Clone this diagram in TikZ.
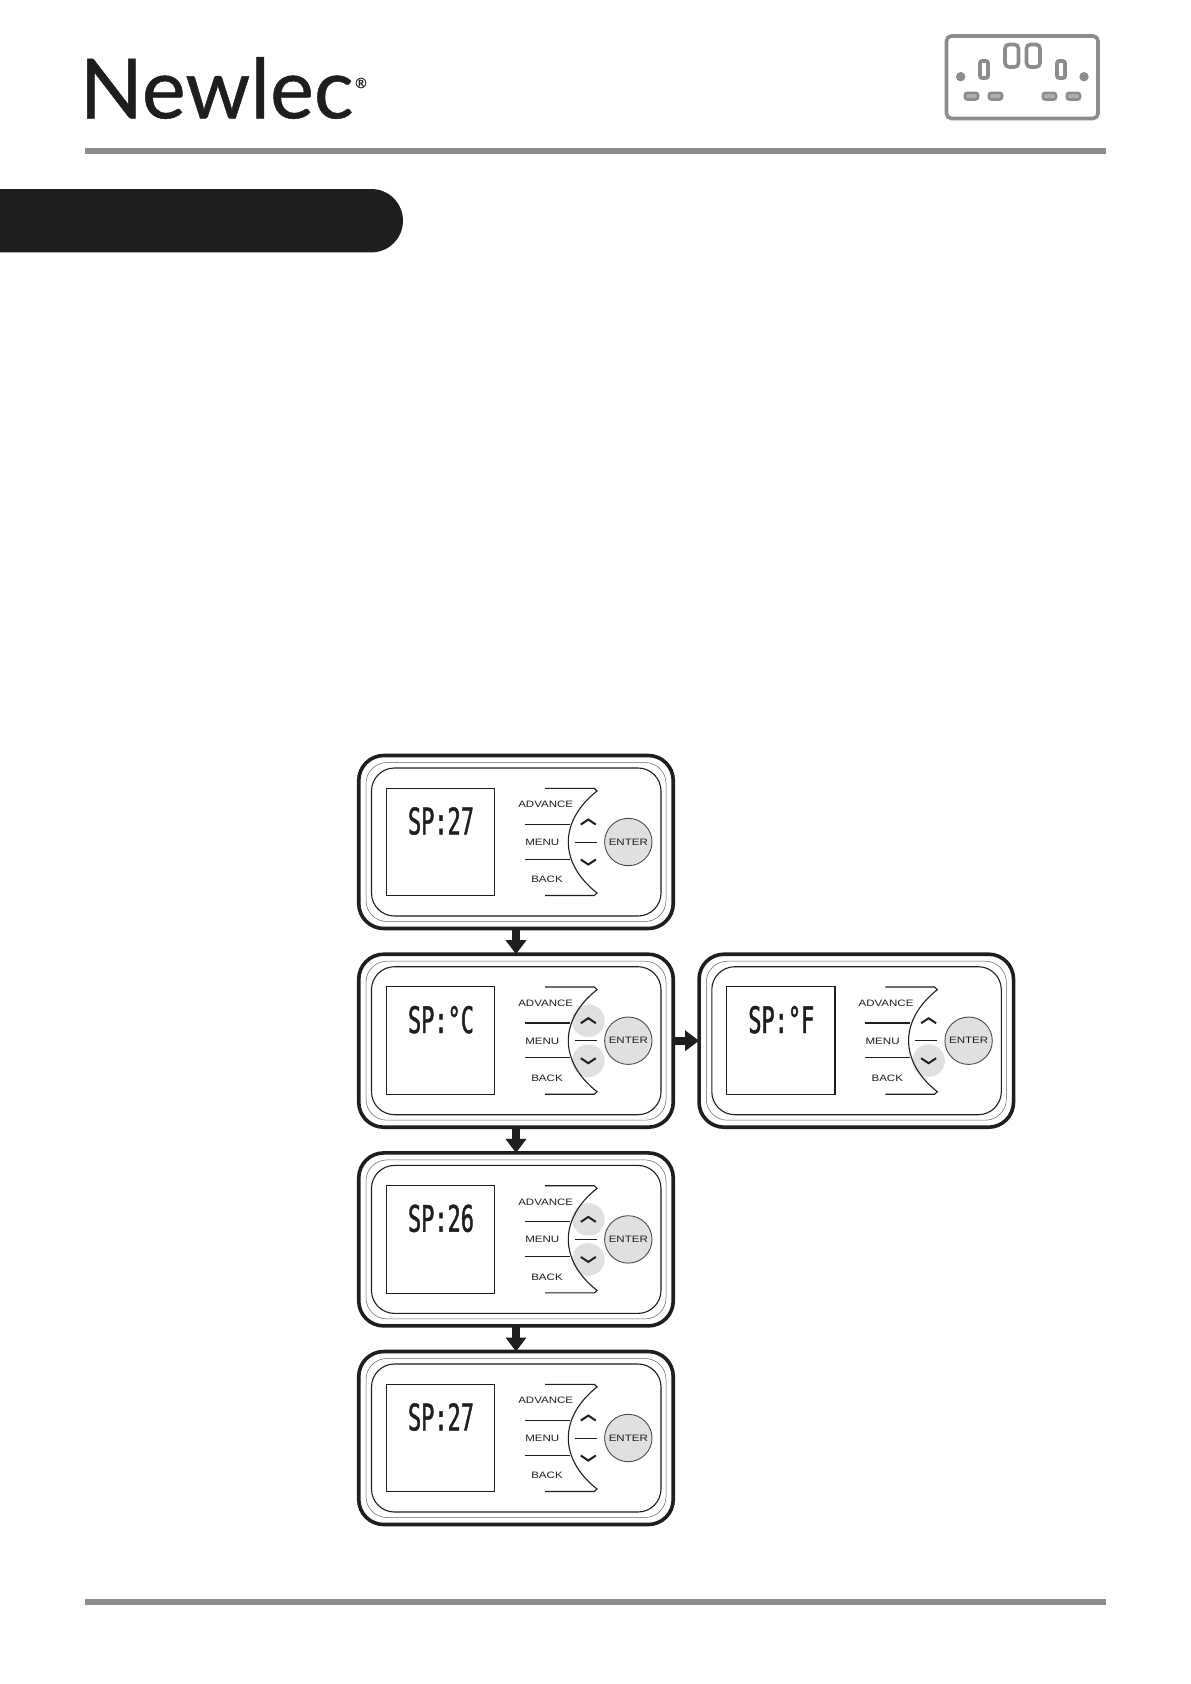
\documentclass[tikz,border=0pt]{standalone}
\usepackage{fontspec}
\usetikzlibrary{arrows.meta}
\setmainfont{Liberation Sans}
\newfontfamily\logofont[FakeBold=0.6]{Lato}
\newfontfamily\lcdfont[FakeStretch=0.6,FakeBold=1.2]{DejaVu Sans Mono}
\newfontfamily\btnfont[FakeStretch=1.24]{Liberation Sans}
\definecolor{ruleg}{HTML}{8C8C8C}
\definecolor{ink}{HTML}{1E1E1E}
\definecolor{hl}{HTML}{E0E0E0}
\tikzset{
  panelbox/.style={draw=ink,line width=3.6pt,rounded corners=25pt,minimum width=314.5pt,minimum height=173pt,inner sep=0pt,outer sep=0pt,fill=white},
  thinline/.style={draw=ink,line width=1.1pt},
  hair/.style={draw=ink!70,line width=0.5pt},
  lcdbox/.style={draw=ink,line width=1.1pt,minimum width=108.4pt,minimum height=107.6pt,inner sep=0pt,outer sep=0pt},
  lcdtext/.style={font=\lcdfont\fontsize{36.5}{40}\selectfont,text=ink,inner sep=0pt},
  btntext/.style={font=\btnfont\fontsize{9.3}{11}\selectfont,text=ink,inner sep=0pt},
  enterbtn/.style={circle,draw=ink!80,fill=hl,line width=0.9pt,minimum size=47.4pt,inner sep=0pt},
  chev/.style={draw=ink,line width=2pt,line join=miter},
  flow/.style={draw=ink,line width=7.6pt,-{Triangle[length=14pt,width=20pt]}},
  socketline/.style={draw=ruleg,line width=3.6pt,rounded corners=5pt},
  socketpill/.style={draw=ruleg,fill=ruleg!70,line width=2.6pt,rounded corners=2.5pt},
}
% #1 name, #2 centre, #3 lcd text, #4 extra highlight drawing
\newcommand{\devpanel}[4]{%
  \node[panelbox] (#1) at (#2) {};
  \begin{scope}[shift={(#2)}]
    \draw[hair,rounded corners=21pt] (-150,-79.5) rectangle (150,79.5);
    \draw[thinline,rounded corners=23pt] (-144.5,-74) rectangle (145,74);
    \node[lcdbox] (#1-lcd) at (-75.5,0) {};
    \node[lcdtext] (#1-read) at (-75,-21) {#3};
    #4
    \draw[thinline] (29,-53.7) -- (78.3,-53.7) -- (81,-51)
      .. controls (62,-36) and (52.3,-18) .. (52.3,0)
      .. controls (52.3,18) and (62,36) .. (81,51)
      -- (78.3,53.5) -- (29,53.5);
    \draw[thinline] (9,-17.7) -- (54,-17.7);
    \draw[thinline] (9,17.2) -- (54,17.2);
    \draw[thinline,line width=0.9pt] (59,0) -- (80.7,0);
    \draw[chev] (64.8,-17.5) -- (72.3,-22.5) -- (79.8,-17.5);
    \draw[chev] (64.8,17.5) -- (72.3,22.5) -- (79.8,17.5);
    \node[btntext] (#1-adv) at (29.7,-37.3) {ADVANCE};
    \node[btntext] (#1-menu) at (26.3,0.3) {MENU};
    \node[btntext] (#1-back) at (31,37.5) {BACK};
    \node[enterbtn,btntext] (#1-enter) at (112.3,0) {ENTER};
  \end{scope}
}
\newcommand{\hlup}{\fill[hl] (72.3,-20) circle (16.3pt);}
\newcommand{\hldown}{\fill[hl] (72.3,20) circle (16.3pt);}
\begin{document}
\begin{tikzpicture}[x=1pt,y=-1pt]
\path[use as bounding box,fill=white] (0,0) rectangle (1191,1684);
% header
\node[anchor=base west,inner sep=0pt,text=ink,font=\logofont\fontsize{83}{90}\selectfont] (logo) at (79.5,118.3) {Newlec};
\node[inner sep=0pt,text=ink,font=\logofont\fontsize{14}{15}\selectfont] (reg) at (361,83) {®};
\fill[ruleg] (85,148) rectangle (1106,154);
\fill[ruleg] (85,1599) rectangle (1106,1605);
% black tab
\fill[ink,rounded corners=31.7pt] (-50,189) rectangle (403,252.4);
% socket icon
\draw[socketline] (946.5,36) rectangle (1098,118.5);
\draw[socketline,rounded corners=4pt] (1005,44.5) rectangle (1018.5,67);
\draw[socketline,rounded corners=4pt] (1026.5,44.5) rectangle (1040,67);
\draw[socketline,rounded corners=2pt] (980,61) rectangle (988,78);
\draw[socketline,rounded corners=2pt] (1057,61) rectangle (1065,78);
\fill[ruleg] (960.7,76.7) circle (4.7pt);
\fill[ruleg] (1084,76.7) circle (4.7pt);
\draw[socketpill] (964.8,92.8) rectangle (978,99.5);
\draw[socketpill] (988.8,92.8) rectangle (1002,99.5);
\draw[socketpill] (1042.8,92.8) rectangle (1056,99.5);
\draw[socketpill] (1066.8,92.8) rectangle (1080,99.5);
% panels
\devpanel{pa}{516,842}{SP:27}{}
\devpanel{pb}{516,1040.7}{SP:°C}{\hlup\hldown}
\devpanel{pc}{516,1239.4}{SP:26}{\hlup\hldown}
\devpanel{pd}{516,1438}{SP:27}{}
\devpanel{pe}{856.3,1040.7}{SP:°F}{\hldown}
% connectors
\draw[flow] (pa.south) -- (pb.north);
\draw[flow] (pb.south) -- (pc.north);
\draw[flow] (pc.south) -- (pd.north);
\draw[flow] (pb.east) -- (pe.west);
\end{tikzpicture}
\end{document}
